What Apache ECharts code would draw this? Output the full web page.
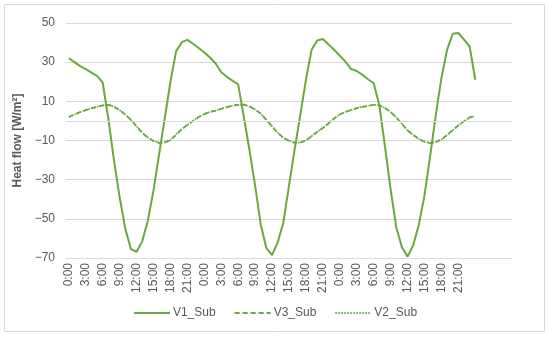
<!DOCTYPE html>
<html>
<head>
<meta charset="utf-8">
<script src="https://cdn.jsdelivr.net/npm/echarts@6/dist/echarts.min.js"></script>
<style>html,body{margin:0;padding:0;background:#fff}#c{width:550px;height:337px}</style>
</head>
<body>
<div id="c"></div>
<script>
// Hourly categories for three days, plus empty trailing slots on the axis
var categories = [
 "0:00","1:00","2:00","3:00","4:00","5:00","6:00","7:00","8:00","9:00","10:00","11:00","12:00","13:00","14:00","15:00","16:00","17:00","18:00","19:00","20:00","21:00","22:00","23:00",
 "0:00","1:00","2:00","3:00","4:00","5:00","6:00","7:00","8:00","9:00","10:00","11:00","12:00","13:00","14:00","15:00","16:00","17:00","18:00","19:00","20:00","21:00","22:00","23:00",
 "0:00","1:00","2:00","3:00","4:00","5:00","6:00","7:00","8:00","9:00","10:00","11:00","12:00","13:00","14:00","15:00","16:00","17:00","18:00","19:00","20:00","21:00","22:00","23:00",
 "","","","","","",""
];
var v1Sub = [32,30,28,26.4,24.7,23,19.5,1,-20,-39,-55,-65.5,-66.8,-61.5,-51,-35.5,-17,1.5,20,35.5,40.2,41.4,39.4,37.2,
 34.9,32.4,29.3,24.9,22.5,20.5,18.7,2,-15,-33,-53,-65,-68.5,-62,-52,-33,-14.5,3,21,36.3,41.1,41.8,39,36.3,
 33.3,30.3,26.5,25.5,23.5,21.3,19.2,8,-13,-35,-54.3,-64.5,-69.3,-63.5,-53,-38,-18,3,22,36.3,44.5,44.9,41.5,38,
 21];
var v3Sub = [2,3.3,4.5,5.5,6.4,7.2,7.9,8.2,7.3,5.5,3.3,0.5,-2.8,-6.1,-8.5,-10.2,-11.2,-11,-9.8,-7,-4.2,-2,0,2,
 3.5,4.6,5.3,6.2,7,7.8,8.2,8.3,7.4,5.8,3.7,0.5,-2.8,-6,-8.6,-10.1,-11.2,-11,-10,-7.8,-5.6,-3.6,-1.3,1.3,
 3.3,4.6,5.6,6.5,7.2,7.7,8.2,8,6.6,4.6,1.8,-1.5,-4.8,-7.2,-9.2,-10.6,-11.3,-10.8,-9.5,-7.2,-4.7,-2.3,-0.2,1.8,
 2.3];
var v2Sub = v3Sub.slice();
var yTicks = {min: -70, max: 50, interval: 20};

var green = '#6BA83F';
var font = 'Liberation Sans, Arial, sans-serif';
var chart = echarts.init(document.getElementById('c'), null, {renderer: 'canvas'});
chart.setOption({
  animation: false,
  textStyle: {fontFamily: font},
  graphic: [{
    type: 'rect', silent: true, z: -10,
    shape: {x: 4.5, y: 4.5, width: 540, height: 327},
    style: {fill: '#fff', stroke: '#d9d9d9', lineWidth: 1}
  }],
  grid: {left: 66, right: 38, top: 23, bottom: 79, containLabel: false},
  legend: {
    bottom: 13, left: 'center',
    itemWidth: 36, itemHeight: 12, itemGap: 18,
    itemStyle: {opacity: 0},
    textStyle: {fontSize: 12, color: '#595959', fontFamily: font, padding: [0,0,0,-2]},
    data: ['V1_Sub', 'V3_Sub', 'V2_Sub']
  },
  xAxis: {
    type: 'category', data: categories, boundaryGap: true,
    axisLine: {show: false}, axisTick: {show: false},
    axisLabel: {interval: 2, rotate: 90, margin: 5, fontSize: 12, color: '#595959', fontFamily: font},
    splitLine: {show: false}
  },
  yAxis: {
    type: 'value', min: yTicks.min, max: yTicks.max, interval: yTicks.interval,
    name: 'Heat flow [W/m²]', nameLocation: 'middle', nameGap: 35, nameRotate: 90,
    nameTextStyle: {fontSize: 12, fontWeight: 'bold', color: '#595959', fontFamily: font},
    axisLine: {show: false}, axisTick: {show: false},
    axisLabel: {margin: 11, fontSize: 12, color: '#595959', fontFamily: font,
      formatter: function (v) { return v < 0 ? '\u2212' + Math.abs(v) : String(v); }},
    splitLine: {lineStyle: {color: '#d9d9d9', width: 1}}
  },
  series: [
    {name: 'V1_Sub', type: 'line', data: v1Sub, symbol: 'none', smooth: false,
     lineStyle: {color: green, width: 2}, itemStyle: {color: green},
     markLine: {silent: true, symbol: 'none', label: {show: false}, animation: false,
       lineStyle: {color: '#d9d9d9', type: 'solid', width: 1}, data: [{yAxis: 0}]}},
    {name: 'V3_Sub', type: 'line', data: v3Sub, symbol: 'none',
     lineStyle: {color: green, width: 1.75, type: [5, 3]}, itemStyle: {color: green}},
    {name: 'V2_Sub', type: 'line', data: v2Sub, symbol: 'none',
     lineStyle: {color: green, width: 1.75, type: [1.5, 1.5]}, itemStyle: {color: green}}
  ]
});
</script>
</body>
</html>
